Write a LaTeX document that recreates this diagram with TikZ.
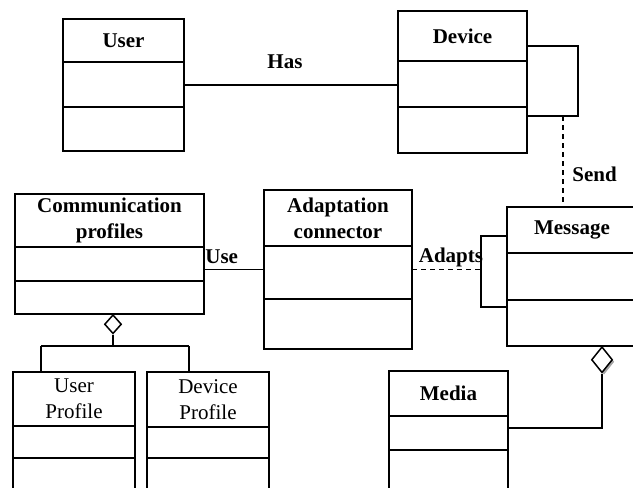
\documentclass[tikz,border=0pt]{standalone}
\usepackage{fontspec}
\setmainfont{Liberation Serif}
\usetikzlibrary{shapes.geometric,shadows}
\tikzset{
  clsbox/.style={draw, line width=0.75pt, rectangle, inner sep=0pt, outer sep=0pt, fill=white},
  ttl/.style={font=\fontsize{10.5}{13}\selectfont\bfseries, align=center, inner sep=0pt},
  ttlr/.style={font=\fontsize{10.5}{13}\selectfont, align=center, inner sep=0pt},
  lbl/.style={font=\fontsize{10.5}{13}\selectfont\bfseries, inner sep=0pt},
  conn/.style={line width=0.75pt},
  dconn/.style={line width=0.75pt, dash pattern=on 2.5pt off 2pt},
  agg/.style={diamond, draw, line width=0.75pt, fill=white, inner sep=0pt, minimum width=8.5pt, minimum height=9.5pt, anchor=north},
}
% name, x1, y1, x2, y2, l1, l2, title, title style
\newcommand\myclass[9]{%
  \node[clsbox, minimum width={(#4-#2)*0.5pt}, minimum height={(#5-#3)*0.5pt}, anchor=north west] (#1) at (#2,#3) {};
  \draw[line width=0.75pt] (#2,#6) -- (#4,#6) (#2,#7) -- (#4,#7);
  \node[#9] (#1-t) at ({(#2+#4)/2},{(#3+#6)/2}) {#8};
}
\begin{document}
\begin{tikzpicture}[x=0.5pt,y=-0.5pt]
\useasboundingbox (0,0) rectangle (633,488);
\clip (0,0) rectangle (633,488);
\fill[white] (0,0) rectangle (633,488);

\myclass{user}{63}{19}{184}{151}{62}{107}{User}{ttl}
\myclass{device}{398}{11}{527}{153}{61}{107}{Device}{ttl}
\myclass{comm}{15}{194}{204}{314}{247}{281}{Communication\\profiles}{ttl}
\myclass{adapt}{264}{190}{412}{349}{246}{299}{Adaptation\\connector}{ttl}
\myclass{message}{507}{207}{637}{346}{253}{300}{Message}{ttl}
\myclass{uprof}{13}{372}{135}{520}{426}{458}{User\\Profile}{ttlr}
\myclass{dprof}{147}{372}{269}{520}{427}{458}{Device\\Profile}{ttlr}
\myclass{media}{389}{371}{508}{520}{416}{450}{Media}{ttl}

% port on message
\node[clsbox, minimum width=13pt, minimum height=35.5pt, anchor=north west] (port) at (481,236) {};

% Has
\draw[conn] (user.east) -- (user.east -| device.west);
\node[lbl] (has) at (285,62) {Has};

% Device self loop
\draw[conn] ([yshift=-17.5pt]device.north east) -- ++(51,0) -- ++(0,70) -- ([yshift=-52.5pt]device.north east);

% Send
\coordinate (sendtop) at (563,116);
\draw[dconn] (sendtop) -- (sendtop |- message.north);
\node[lbl, anchor=west] (send) at (572,174) {Send};

% Use
\draw[conn] (adapt.west) -- (adapt.west -| comm.east);
\node[lbl, anchor=west] (use) at (205,257) {Use};

% Adapts
\draw[dconn] (adapt.east) -- (adapt.east -| port.west);
\node[lbl] (adapts) at (451,257) {Adapts};

% Aggregation comm -> profiles
\node[agg] (d1) at ([xshift=1.75pt]comm.south) {};
\coordinate (b1) at (41,346);
\coordinate (b2) at (189,346);
\draw[conn] (d1.south) -- (d1.south |- b1);
\draw[conn] (b1) -- (b2);
\draw[conn] (b1) -- (b1 |- uprof.north);
\draw[conn] (b2) -- (b2 |- dprof.north);

% Aggregation message -> media
\node[agg, minimum width=10.5pt, minimum height=13pt, drop shadow={shadow xshift=1pt, shadow yshift=-1pt, fill=gray!70, opacity=1}] (d2) at ([xshift=15pt]message.south) {};
\coordinate (m1) at (602,428);
\draw[conn] (d2.south) -- (d2.south |- m1) -- (m1 -| media.east);
\end{tikzpicture}
\end{document}
